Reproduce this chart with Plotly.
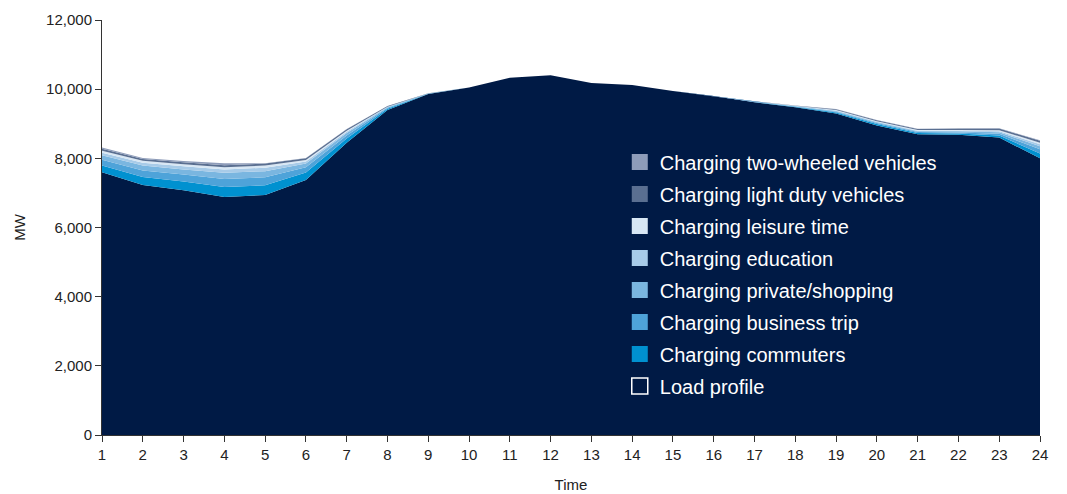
import plotly.graph_objects as go

hours = list(range(1, 25))
load_profile = [7600, 7230, 7080, 6880, 6940, 7370, 8450, 9400, 9860, 10050, 10330, 10400,
                10180, 10120, 9950, 9800, 9620, 9480, 9300, 8950, 8700, 8680, 8600, 8000]
commuters = [190, 230, 250, 290, 280, 220, 120, 35, 5, 0, 0, 0, 0, 0, 0, 0, 5, 10, 25, 40, 30, 40, 60, 140]
business_trip = [170, 190, 200, 230, 230, 150, 90, 25, 5, 0, 0, 0, 0, 0, 0, 0, 5, 10, 25, 30, 30, 30, 50, 120]
private_shopping = [130, 140, 150, 180, 180, 110, 70, 20, 5, 0, 0, 0, 0, 0, 0, 0, 5, 10, 20, 25, 25, 30, 45, 90]
education = [70, 80, 90, 100, 100, 60, 40, 10, 0, 0, 0, 0, 0, 0, 0, 0, 5, 5, 15, 15, 15, 20, 30, 60]
leisure_time = [60, 60, 60, 60, 60, 40, 30, 5, 0, 0, 0, 0, 0, 0, 0, 0, 5, 5, 15, 15, 20, 20, 30, 40]
light_duty = [60, 50, 60, 60, 60, 50, 40, 15, 5, 0, 0, 0, 0, 0, 0, 0, 5, 10, 20, 25, 30, 40, 45, 60]
two_wheeled = [30, 30, 30, 60, 10, 10, 10, 5, 0, 0, 0, 0, 0, 0, 0, 0, 0, 0, 5, 5, 5, 5, 10, 10]

series = [
    ("Load profile", load_profile, "#001a45"),
    ("Charging commuters", commuters, "#0091d0"),
    ("Charging business trip", business_trip, "#4ea3d9"),
    ("Charging private/shopping", private_shopping, "#7ab6e0"),
    ("Charging education", education, "#a8cbe8"),
    ("Charging leisure time", leisure_time, "#d8e7f4"),
    ("Charging light duty vehicles", light_duty, "#5a6f91"),
    ("Charging two-wheeled vehicles", two_wheeled, "#8e9cb9"),
]

fig = go.Figure()
for name, vals, color in series:
    fig.add_trace(go.Scatter(
        x=hours, y=vals, name=name, stackgroup="one", mode="lines",
        line=dict(width=0, color=color), fillcolor=color, showlegend=False,
        hoverinfo="skip"))

for i, (name, vals, color) in enumerate(series):
    fig.add_trace(go.Scatter(
        x=[None], y=[None], name=name, mode="markers", legendgroup=name,
        legendrank=100 - i,
        marker=dict(symbol="square", size=19, color=color,
                    line=dict(color="white" if i == 0 else color, width=1.5 if i == 0 else 0)),
        showlegend=True))

fig.update_layout(
    width=1059, height=486,
    margin=dict(l=94, r=27, t=12, b=59),
    paper_bgcolor="white", plot_bgcolor="white",
    font=dict(family="Liberation Sans, Arial, sans-serif", size=15, color="#222222"),
    legend=dict(x=0.552, y=0.705, xanchor="left", yanchor="top",
                bgcolor="rgba(0,0,0,0)", font=dict(size=20, color="white"),
                traceorder="grouped", tracegroupgap=3, itemsizing="trace"),
    xaxis=dict(title=dict(text="Time", font=dict(size=15), standoff=17), range=[1, 24],
               tickmode="array", tickvals=hours, showgrid=False, zeroline=False,
               showline=True, linecolor="#333333", linewidth=1, automargin=False,
               ticks="outside", ticklen=6, tickcolor="#333333"),
    yaxis=dict(title=dict(text="MW", font=dict(size=15), standoff=16), range=[0, 12000],
               tickvals=[0, 2000, 4000, 6000, 8000, 10000, 12000], tickformat=",d",
               showgrid=False, zeroline=False, showline=True, linecolor="#333333",
               linewidth=1, ticks="outside", ticklen=6, tickcolor="#333333", automargin=False),
)

fig.write_html("out.html")
